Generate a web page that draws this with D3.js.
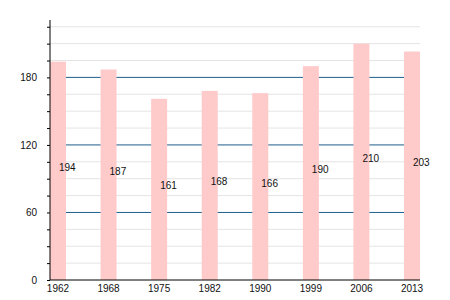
<!DOCTYPE html>
<html>
<head>
<meta charset="utf-8">
<script src="https://cdn.jsdelivr.net/npm/d3@7"></script>
<style>
  body { margin: 0; background: #fff; }
  text { font-family: "Liberation Sans", Arial, sans-serif; font-size: 10px; fill: #111; }
</style>
</head>
<body>
<svg id="chart" width="450" height="300"></svg>
<script>
const years = ['1962', '1968', '1975', '1982', '1990', '1999', '2006', '2013']
const values = [194, 187, 161, 168, 166, 190, 210, 203]
const minorTicks = [15, 30, 45, 75, 90, 105, 135, 150, 165, 195, 210, 225]
const majorTicks = [0, 60, 120, 180]

const margin = { top: 20, right: 30, bottom: 20, left: 50 }
const width = 450, height = 300

const svg = d3.select('#chart')

const x = d3.scaleBand()
  .domain(years)
  .range([32.7, 437.3])
  .paddingInner(0.684)
  .paddingOuter(0.342)

const y = d3.scaleLinear()
  .domain([0, 231])
  .range([height - margin.bottom, margin.top])

const x0 = margin.left, x1 = 420

// light gridlines
svg.append('g')
  .selectAll('line')
  .data(minorTicks)
  .enter().append('line')
    .attr('x1', x0).attr('x2', x1)
    .attr('y1', (d) => y(d)).attr('y2', (d) => y(d))
    .attr('stroke', '#e4e4e4')

// major gridlines
svg.append('g')
  .selectAll('line')
  .data(majorTicks.slice(1))
  .enter().append('line')
    .attr('x1', x0).attr('x2', x1)
    .attr('y1', (d) => y(d)).attr('y2', (d) => y(d))
    .attr('stroke', '#1d5f8a')

// bars
svg.append('g')
  .selectAll('rect')
  .data(values)
  .enter().append('rect')
    .attr('x', (d, i) => x(years[i]))
    .attr('width', x.bandwidth())
    .attr('y', (d) => y(d))
    .attr('height', (d) => y(0) - y(d))
    .attr('fill', '#ffcaca')

// value labels
svg.append('g')
  .selectAll('text')
  .data(values)
  .enter().append('text')
    .attr('x', (d, i) => x(years[i]) + x.bandwidth() / 2 + 1)
    .attr('y', (d) => y(d / 2))
    .text((d) => d)

// y axis
const yAxis = svg.append('g')
  .attr('transform', `translate(${margin.left},0)`)
  .call(d3.axisLeft(y)
    .tickValues(d3.range(0, 226, 15))
    .tickSize(3)
    .tickPadding(10)
    .tickFormat((d) => majorTicks.includes(d) ? d : ''))
yAxis.select('.domain').attr('d', `M0,${y(0)}V${margin.top}`).attr('stroke', '#000')
yAxis.selectAll('.tick line').attr('stroke', '#000')
yAxis.selectAll('text').style('font-size', '10px').attr('fill', '#111')

// x axis
const xAxis = svg.append('g')
  .attr('transform', `translate(0,${y(0)})`)
xAxis.append('line')
  .attr('x1', x0).attr('x2', x1)
  .attr('stroke', '#000')
xAxis.selectAll('text')
  .data(years)
  .enter().append('text')
    .attr('x', (d) => x(d) + x.bandwidth() / 2)
    .attr('y', 12)
    .attr('text-anchor', 'middle')
    .text((d) => d)
</script>
</body>
</html>
